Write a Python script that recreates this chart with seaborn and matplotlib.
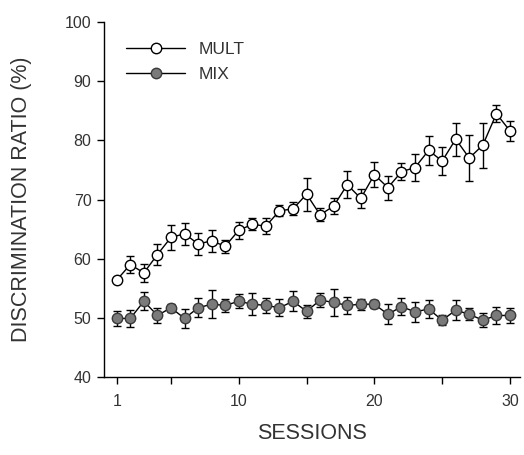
import numpy as np
import pandas as pd
import matplotlib
matplotlib.use("Agg")
import matplotlib.pyplot as plt
import seaborn as sns

sessions = list(range(1, 31))
mult_mean = [56.4, 59.0, 57.6, 60.7, 63.6, 64.2, 62.5, 63.0, 62.1, 64.8,
             65.8, 65.5, 68.1, 68.4, 70.9, 67.4, 68.9, 72.5, 70.2, 74.2,
             72.0, 74.7, 75.4, 78.3, 76.5, 80.2, 77.0, 79.2, 84.5, 81.6]
mult_err = [0.3, 1.5, 1.5, 1.7, 2.1, 1.9, 1.8, 1.8, 1.1, 1.4,
            1.0, 1.4, 0.9, 1.1, 2.8, 1.1, 1.3, 2.3, 1.6, 2.1,
            2.0, 1.4, 2.3, 2.5, 2.3, 2.8, 3.9, 3.8, 1.4, 1.7]
mix_mean = [49.9, 49.9, 52.8, 50.4, 51.7, 49.9, 51.7, 52.3, 52.1, 52.8,
            52.3, 52.1, 51.7, 52.8, 51.1, 53.0, 52.6, 52.1, 52.3, 52.3,
            50.6, 51.9, 51.0, 51.5, 49.6, 51.3, 50.6, 49.6, 50.4, 50.4]
mix_err = [1.2, 1.5, 1.5, 1.2, 0.7, 1.6, 1.6, 2.4, 1.1, 1.2,
           1.9, 1.3, 1.4, 1.7, 1.1, 1.2, 2.3, 1.5, 0.9, 0.7,
           1.7, 1.4, 1.7, 1.5, 0.8, 1.7, 1.0, 1.2, 1.5, 1.3]
series_names = ["MULT", "MIX"]
x_ticks = [1, 5, 10, 15, 20, 25, 30]
x_ticklabels = ["1", "", "10", "", "20", "", "30"]
y_ticks = [40, 50, 60, 70, 80, 90, 100]

sns.set_style("ticks")
plt.rcParams["font.family"] = ["Liberation Sans", "DejaVu Sans"]

df = pd.DataFrame({
    "session": sessions * 2,
    "ratio": mult_mean + mix_mean,
    "err": mult_err + mix_err,
    "group": [series_names[0]] * 30 + [series_names[1]] * 30,
})

fig = plt.figure(figsize=(5.24, 4.55), dpi=100)
ax = fig.add_axes([104 / 524, 1 - 377 / 455, 416 / 524, 355 / 455])

# error bars (behind markers)
for name in series_names:
    sub = df[df["group"] == name]
    ax.errorbar(sub["session"], sub["ratio"], yerr=sub["err"], fmt="none",
                ecolor="black", elinewidth=1.0, capsize=2.6, capthick=1.0, zorder=2)

sns.lineplot(data=df, x="session", y="ratio", hue="group", style="group",
             palette={"MULT": "black", "MIX": "black"},
             markers={"MULT": "o", "MIX": "o"}, dashes=False,
             linewidth=1.0, markersize=7.5, ax=ax, zorder=3, legend=False)

sns_lines = [l for l in ax.get_lines() if l.get_marker() == "o"]
sns_lines[0].set_markerfacecolor("white")
sns_lines[0].set_markeredgecolor("black")
sns_lines[0].set_markeredgewidth(1.0)
sns_lines[1].set_markerfacecolor("#7a7a7a")
sns_lines[1].set_markeredgecolor("#3a3a3a")
sns_lines[1].set_markeredgewidth(1.0)

leg = ax.legend(sns_lines, series_names, loc="upper left",
                bbox_to_anchor=(0.053, 0.945), frameon=False,
                fontsize=12.5, handlelength=3.4, handletextpad=0.8,
                labelspacing=0.6, borderpad=0, borderaxespad=0)
for t in leg.get_texts():
    t.set_color("#333333")

ax.set_xlim(0.06, 30.74)
ax.set_ylim(40, 100)
ax.set_xticks(x_ticks)
ax.set_xticklabels(x_ticklabels)
ax.set_yticks(y_ticks)
ax.tick_params(axis="both", direction="out", length=5, width=1, labelsize=11.5,
               labelcolor="#333333", color="black")
ax.tick_params(axis="x", pad=7)
ax.tick_params(axis="y", pad=4)
ax.set_xlabel("SESSIONS", fontsize=15.5, color="#333333", labelpad=10)
ax.set_ylabel("DISCRIMINATION RATIO (%)", fontsize=15.5, color="#333333", labelpad=24)
sns.despine(ax=ax)
for s in ["left", "bottom"]:
    ax.spines[s].set_linewidth(1.0)
    ax.spines[s].set_color("black")

fig.savefig("out.png", dpi=100)
